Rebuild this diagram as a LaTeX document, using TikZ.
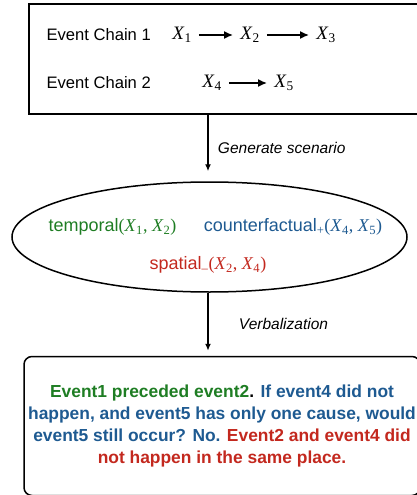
\documentclass[tikz,border=0pt]{standalone}
\usepackage{fontspec}
\setmainfont{Liberation Sans}
\newfontfamily\tmsfont{Liberation Serif}
\usepackage{tikz}
\usetikzlibrary{arrows.meta, shapes.geometric, positioning}

\definecolor{tempgreen}{RGB}{30,125,35}
\definecolor{cfblue}{RGB}{30,90,145}
\definecolor{spred}{RGB}{195,40,30}

\newcommand{\evx}[1]{{\tmsfont\textit{X}\textsubscript{#1}}}

\begin{document}
\begin{tikzpicture}
        [x=1pt, y=-1pt,
        every node/.style={font=\fontsize{16.6}{22}\selectfont},
        chainbox/.style={draw, line width=1.8pt, minimum width=393pt, minimum height=110pt},
        scenario/.style={draw, ellipse, line width=1.5pt, minimum width=395pt, minimum height=110pt, inner sep=0pt},
        textbox/.style={draw, rounded corners=8pt, line width=1.5pt, minimum width=396pt, minimum height=139pt, align=center},
        evnode/.style={inner xsep=7pt, font=\fontsize{19}{22}\selectfont},
        scentext/.style={font=\fontsize{18}{22}\selectfont},
        chainarrow/.style={-{Latex[length=9pt, width=8pt]}, line width=1.8pt},
        flowarrow/.style={-{Latex[length=7pt, width=6pt]}, line width=1.3pt},
        steplabel/.style={font=\fontsize{15.5}{22}\selectfont\itshape}]
        \useasboundingbox (0,0) rectangle (417,495);

        % event chains
        \node[chainbox]  (chains)  at (225.5,59) {};
        \node[anchor=west]  (chainA)  at (43,35) {Event Chain 1};
        \node[anchor=west]  (chainB)  at (43,83) {Event Chain 2};

        \node[evnode]  (x1)  at (182,35) {\evx{1}};
        \node[evnode]  (x2)  at (250,35) {\evx{2}};
        \node[evnode]  (x3)  at (326,35) {\evx{3}};
        \node[evnode]  (x4)  at (212,83) {\evx{4}};
        \node[evnode]  (x5)  at (284,83) {\evx{5}};

        \draw[chainarrow] (x1) -- (x2);
        \draw[chainarrow] (x2) -- (x3);
        \draw[chainarrow] (x4) -- (x5);

        % scenario
        \node[scenario]  (scen)  at (209.5,237) {};
        \node[scentext, text=tempgreen]  (temp)  at (112.5,227)
        {temporal{\tmsfont(\textit{X}\textsubscript{1}, \textit{X}\textsubscript{2})}};
        \node[scentext, text=cfblue]  (cf)  at (293,227)
        {counterfactual\textsubscript{\tmsfont+}{\tmsfont(\textit{X}\textsubscript{4}, \textit{X}\textsubscript{5})}};
        \node[scentext, text=spred]  (spat)  at (208,265)
        {spatial\textsubscript{\tmsfont\textendash}{\tmsfont(\textit{X}\textsubscript{2}, \textit{X}\textsubscript{4})}};

        % verbalization
        \node[textbox, font=\fontsize{17.4}{22}\selectfont\bfseries]  (verb)  at (222,426)
        {{\color{tempgreen}Event1 preceded event2}. {\color{cfblue}If event4 did not}\\
            {\color{cfblue}happen, and event5 has only one cause, would}\\
            {\color{cfblue}event5 still occur? No.} {\color{spred}Event2 and event4 did}\\
            {\color{spred}not happen in the same place.}};

        \draw[flowarrow, shorten >=10pt] (chains.south -| 208,0) -- node[steplabel, midway, right=6pt] {Generate scenario} (scen.north -| 208,0);
        \draw[flowarrow, shorten >=5pt] (scen.south -| 208,0) -- node[steplabel, midway, right=27pt] {Verbalization} (verb.north -| 208,0);
\end{tikzpicture}
\end{document}
